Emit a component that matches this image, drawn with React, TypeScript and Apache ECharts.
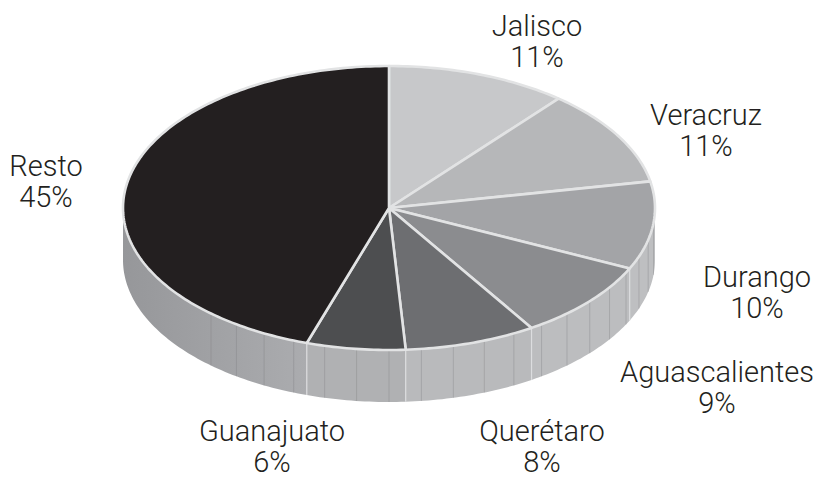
import React, { useEffect, useRef } from "react";
import * as echarts from "echarts";

// ---- data ----
const categories = ["Jalisco", "Veracruz", "Durango", "Aguascalientes", "Querétaro", "Guanajuato", "Resto"];
const shares = [11, 11, 10, 9, 8, 6, 45];

// ---- styles / layout (not data) ----
const topColors = ["#c7c8ca", "#b6b7b9", "#a3a4a7", "#8b8c8f", "#6d6e71", "#4d4e50", "#231f20"];
const sideColors = ["#c3c4c6", "#c0c1c3", "#bebfc1", "#bcbdbf", "#b9babc", "#b0b1b3", "#a3a4a7"];
const labelAnchors: number[][] = [
  [537, 41],
  [706, 130],
  [757, 292],
  [717, 387],
  [542, 446],
  [272, 446],
  [46, 181],
];

const CX = 389;
const CY = 208;
const RX = 266;
const RY = 142;
const DEPTH = 52;

const total = shares.reduce((s, v) => s + v, 0);
const starts: number[] = [];
{
  let acc = 0;
  shares.forEach((v) => {
    starts.push((acc / total) * 360);
    acc += v;
  });
}

function pt(deg: number, dy = 0): number[] {
  const r = (deg * Math.PI) / 180;
  return [CX + RX * Math.sin(r), CY - RY * Math.cos(r) + dy];
}
function arc(a: number, b: number, dy = 0): number[][] {
  const pts: number[][] = [];
  const n = Math.max(2, Math.ceil(Math.abs(b - a) / 1));
  for (let i = 0; i <= n; i++) pts.push(pt(a + ((b - a) * i) / n, dy));
  return pts;
}

export default function App() {
  const ref = useRef<HTMLDivElement>(null);
  useEffect(() => {
    if (!ref.current) return;
    const chart = echarts.init(ref.current, undefined, { renderer: "svg" });

    const sideRender = (params: any, api: any) => {
      const i = params.dataIndex;
      const a = starts[i];
      const b = a + (api.value(0) / total) * 360;
      const s = Math.max(a, 90);
      const e = Math.min(b, 270);
      const children: any[] = [];
      if (s < e) {
        const top = arc(s, e);
        const bottom = arc(e, s, DEPTH);
        const isResto = i === shares.length - 1;
        children.push({
          type: "polygon",
          shape: { points: [...top, ...bottom] },
          style: {
            fill: isResto
              ? new echarts.graphic.LinearGradient(0, 0, 1, 0, [
                  { offset: 0, color: "#96979a" },
                  { offset: 1, color: "#abacaf" },
                ])
              : sideColors[i],
            stroke: null,
          },
          silent: true,
        });
        // facet lines
        for (let ang = 96; ang <= 222; ang += 7) {
          if (ang > s + 0.5 && ang < e - 0.5) {
            const p1 = pt(ang);
            const p2 = pt(ang, DEPTH);
            children.push({
              type: "line",
              shape: { x1: p1[0], y1: p1[1], x2: p2[0], y2: p2[1] },
              style: { stroke: "rgba(120,121,125,0.45)", lineWidth: 0.7 },
              silent: true,
            });
          }
        }
        if (a >= 90 && a <= 270) {
          const p1 = pt(a);
          const p2 = pt(a, DEPTH);
          children.push({
            type: "line",
            shape: { x1: p1[0], y1: p1[1], x2: p2[0], y2: p2[1] },
            style: { stroke: "#dcdddf", lineWidth: 1.2 },
            silent: true,
          });
        }
      }
      return { type: "group", children };
    };

    const topRender = (params: any, api: any) => {
      const i = params.dataIndex;
      const a = starts[i];
      const b = a + (api.value(0) / total) * 360;
      return {
        type: "polygon",
        shape: { points: [[CX, CY], ...arc(a, b)] },
        style: {
          fill: topColors[i],
          stroke: "#e2e3e4",
          lineWidth: 2.6,
          lineJoin: "round",
        },
        silent: true,
      };
    };

    const seriesData = shares.map((v, i) => ({ name: categories[i], value: [v] }));

    chart.setOption({
      animation: false,
      backgroundColor: "#ffffff",
      series: [
        {
          type: "custom",
          coordinateSystem: "none",
          renderItem: sideRender,
          data: seriesData,
          z: 1,
        },
        {
          type: "custom",
          coordinateSystem: "none",
          renderItem: topRender,
          data: seriesData,
          z: 2,
        },
      ],
      graphic: categories.map((c, i) => ({
        type: "text",
        x: labelAnchors[i][0],
        y: labelAnchors[i][1],
        z: 10,
        style: {
          text: `${c}\n${shares[i]}%`,
          fill: "#231f20",
          fontFamily: "Roboto",
          fontWeight: 300,
          fontSize: 29,
          lineHeight: 31,
          align: "center",
          verticalAlign: "middle",
        },
      })),
    });
    return () => chart.dispose();
  }, []);

  return (
    <div
      ref={ref}
      style={{ position: "fixed", left: 0, top: 0, width: 821, height: 477, background: "#fff" }}
    />
  );
}
